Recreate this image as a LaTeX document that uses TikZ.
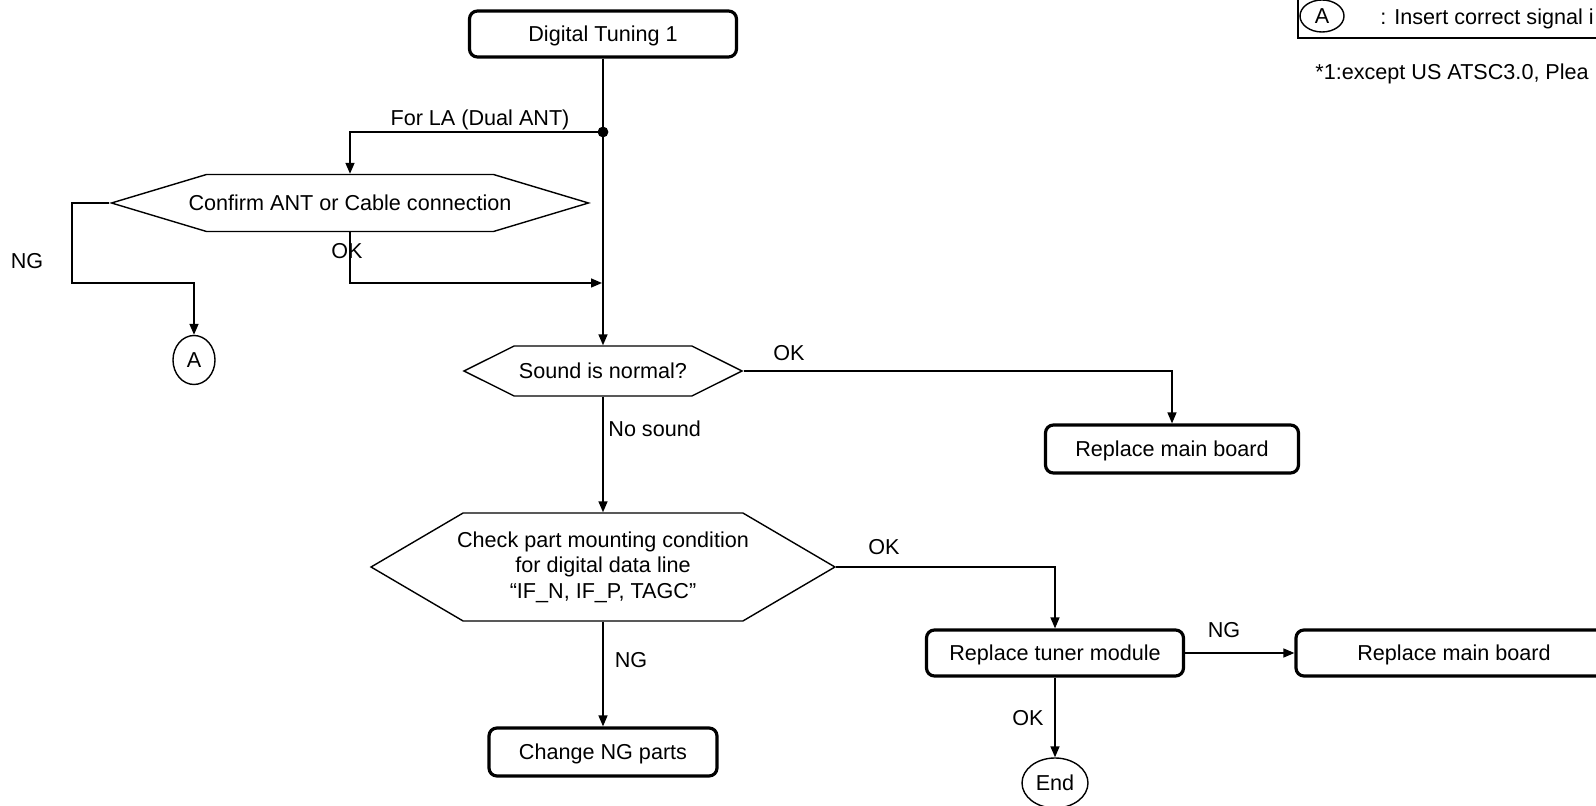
\documentclass[tikz,border=0pt]{standalone}
\usepackage{fontspec}
\setmainfont{Liberation Sans}
\usetikzlibrary{shapes.symbols,shapes.geometric,arrows.meta}

\begin{document}
\begin{tikzpicture}[x=0.5pt, y=-0.5pt,
    font=\fontsize{10.8}{12.7}\selectfont,
    txt/.style={text height=0.72em, text depth=0pt},
    boite/.style={draw, txt, rounded corners=4pt, line width=1.6pt, minimum height=23pt},
    hexa/.style={draw, shape=signal, signal to=west and east, line width=0.7pt, inner sep=0pt},
    rond/.style={draw, txt, ellipse, line width=0.7pt, inner sep=0pt},
    fleche/.style={-{Triangle[length=5.5pt,width=4.5pt]}, line width=0.75pt}]

\useasboundingbox (0,0) rectangle (1596,806);

% Legende
\draw[line width=0.7pt] (1298,-10) -- (1298,38) -- (1700,38);
\node[rond, minimum width=22pt, minimum height=16pt] (legA) at (1322,16) {A};
\node[txt, anchor=west, inner sep=0pt] (legtxt) at (1380,17) {: Insert correct signal i};
\node[txt, anchor=west, inner sep=0pt] (note) at (1315,72) {*1:except US ATSC3.0, Plea};

% Noeuds
\node[boite, minimum width=133.5pt] (tune) at (603,34) {Digital Tuning 1};
\coordinate (jonction) at (603,132);
\node[hexa, txt, inner xsep=-9pt, minimum height=28.5pt, signal pointer angle=33.4] (confirm) at (350,203) {Confirm ANT or Cable connection};
\node[rond, minimum width=21pt, minimum height=24.5pt] (A) at (194,360) {A};
\coordinate (ng1) at (72,283);
\coordinate (retour) at (602,283);
\node[hexa, txt, minimum width=139pt, minimum height=25pt, signal pointer angle=53] (son) at (603,371) {Sound is normal?};
\node[boite, minimum width=126.5pt, minimum height=24pt] (carte1) at (1172,449) {Replace main board};
\node[hexa, inner xsep=-3pt, minimum height=54pt, signal pointer angle=60.8, align=center] (verif) at (603,567)
    {Check part mounting condition\\for digital data line\\“IF\_N, IF\_P, TAGC”};
\node[boite, minimum width=128.5pt] (tuner) at (1055,653) {Replace tuner module};
\node[boite, minimum width=158pt] (carte2) at (1454,653) {Replace main board};
\node[boite, minimum width=114pt, minimum height=24pt] (change) at (603,752) {Change NG parts};
\node[rond, minimum width=33pt, minimum height=25pt] (fin) at (1055,783) {End};

% Liaisons
\draw[fleche] (tune.south) -- (son.north);
\fill (jonction) circle (2.7pt);
\draw[fleche] (jonction) -| (confirm.north);
\draw[fleche] (confirm.west) -| (ng1) -| (A.north);
\draw[fleche] (confirm.south) |- (retour);
\draw[fleche] (son.east) -| (carte1.north);
\draw[fleche] (son.south) -- (verif.north);
\draw[fleche] (verif.east) -| (tuner.north);
\draw[fleche] (verif.south) -- (change.north);
\draw[fleche] (tuner.east) -- (carte2.west);
\draw[fleche] (tuner.south) -- (fin.north);

% Annotations
\node[txt] (lla) at (480,118) {For LA (Dual ANT)};
\node[txt] (lng1) at (27,261) {NG};
\node[txt] (lok1) at (347,251) {OK};
\node[txt] (lok2) at (789,353) {OK};
\node[txt, anchor=west, inner sep=0pt] (lnos) at (608,429) {No sound};
\node[txt] (lok3) at (884,547) {OK};
\node[txt] (lng2) at (631,660) {NG};
\node[txt] (lng3) at (1224,630) {NG};
\node[txt] (lok4) at (1028,718) {OK};

\end{tikzpicture}
\end{document}
